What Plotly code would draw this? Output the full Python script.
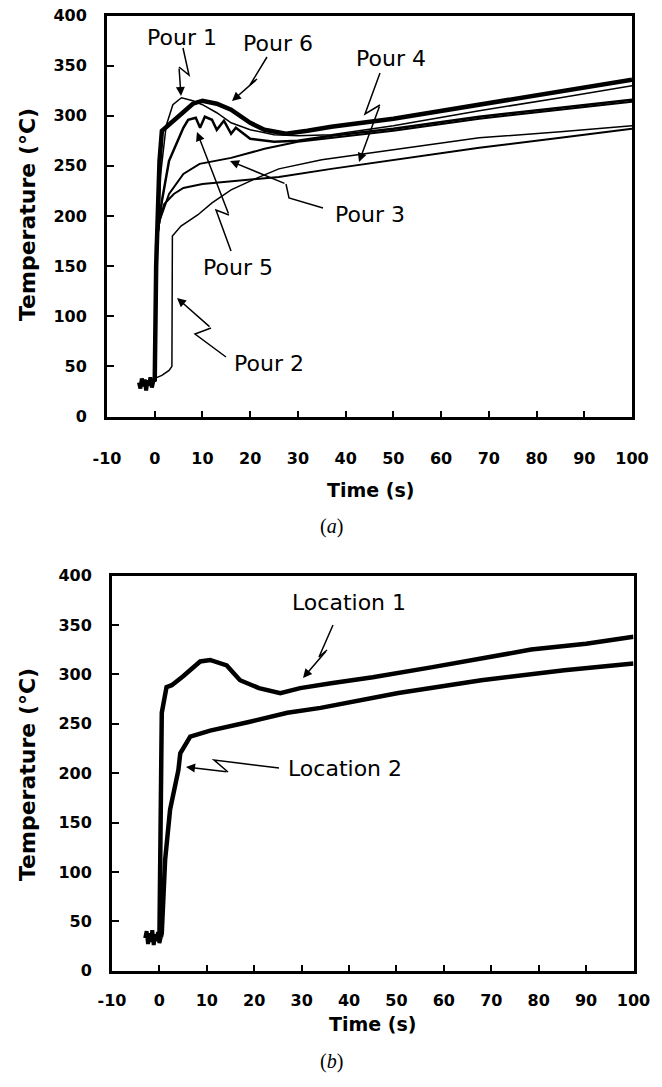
import plotly.graph_objects as go

W, H = 662, 1087

# ---------------- Panel (a) data: time (s) / temperature (°C) ----------------
pre_a_t = [-3.3, -3.0, -2.7, -2.4, -2.1, -1.8, -1.5, -1.2, -0.9, -0.6, -0.3, 0.0]
pre_a_T = [34, 28, 38, 30, 37, 26, 36, 31, 39, 29, 35, 34]

pour1_t = [0.0, 0.4, 1.2, 1.7, 2.4, 3.8, 5.6, 8, 10, 13, 16, 20, 25, 30, 37, 50, 68, 85, 100]
pour1_T = [35, 150, 240, 262, 290, 311, 318, 315, 311, 303, 293, 286, 281, 280, 281, 290, 305, 318, 330]

pour2_t = [0.0, 1.5, 3.0, 3.6, 3.7, 5.5, 9, 12, 16, 21, 26, 35, 50, 68, 85, 100]
pour2_T = [38, 41, 46, 50, 180, 190, 201, 213, 226, 237, 247, 256, 266, 278, 284, 290]

pour3_t = [0.0, 0.3, 1, 3, 6, 9.4, 16, 23, 30, 37, 50, 68, 85, 100]
pour3_T = [35, 172, 195, 222, 242, 252, 258, 267, 274, 278, 285, 297, 306, 314]

pour4_t = [0.0, 0.3, 1, 2, 4, 6, 10, 15, 20, 26, 37, 50, 68, 85, 100]
pour4_T = [35, 170, 195, 212, 222, 228, 232, 234, 236, 239, 247, 256, 268, 278, 287]

pour5_t = [0.0, 0.3, 1.5, 3, 6, 7, 8.6, 9.5, 10.5, 12, 13, 14.5, 16, 17, 20, 25, 30, 37, 50, 68, 85, 100]
pour5_T = [35, 172, 215, 255, 288, 296, 298, 288, 299, 296, 286, 295, 282, 288, 277, 274, 275, 280, 287, 299, 308, 316]

pour6_t = [0.0, 0.3, 1, 1.5, 2.5, 5, 8, 10, 13, 16, 20, 23, 27.5, 32, 37, 50, 68, 85, 100]
pour6_T = [35, 150, 255, 285, 289, 300, 312, 315, 312, 306, 293, 286, 282, 285, 289, 297, 311, 324, 336]

# ---------------- Panel (b) data ----------------
pre_b_t = [-3.0, -2.7, -2.4, -2.1, -1.8, -1.5, -1.2, -0.9, -0.6, -0.3, 0.0, 0.3]
pre_b_T = [33, 40, 27, 38, 29, 41, 26, 37, 30, 39, 28, 34]

loc1_t = [0.0, 0.3, 0.5, 1.5, 2.6, 5, 8.6, 10.7, 14.2, 17, 21, 25.5, 29.7, 36.2, 45, 57.3, 70, 78.4, 90, 100]
loc1_T = [33, 150, 261, 287, 289, 298, 313, 314.5, 309, 294, 286, 281, 286, 291, 297, 307, 318, 325, 331, 338]

loc2_t = [0.3, 0.5, 1.2, 2.25, 4, 4.4, 6.5, 10.7, 19.1, 27, 34, 50.4, 67.9, 85.4, 100]
loc2_T = [34, 38, 112, 163, 203, 220, 237, 243, 252, 261, 266, 281, 294, 304, 311]

x_ticks = list(range(-10, 101, 10))
x_ticktext = [str(v) for v in x_ticks]
y_ticks = list(range(0, 401, 50))
y_ticktext = [str(v) for v in y_ticks]

# ---------------- figure ----------------
fig = go.Figure()

def add_line(x, y, xa, ya, width):
    fig.add_trace(go.Scatter(x=x, y=y, mode="lines", xaxis=xa, yaxis=ya,
                             line=dict(color="black", width=width),
                             showlegend=False, hoverinfo="skip"))

add_line(pre_a_t, pre_a_T, "x", "y", 4)
add_line(pour1_t, pour1_T, "x", "y", 1.5)
add_line(pour2_t, pour2_T, "x", "y", 1.5)
add_line(pour3_t, pour3_T, "x", "y", 2)
add_line(pour4_t, pour4_T, "x", "y", 2)
add_line(pour5_t, pour5_T, "x", "y", 2.5)
add_line(pour6_t, pour6_T, "x", "y", 4.5)

add_line(pre_b_t, pre_b_T, "x2", "y2", 4)
add_line(loc1_t, loc1_T, "x2", "y2", 4.5)
add_line(loc2_t, loc2_T, "x2", "y2", 4.5)

tickfont = dict(family="DejaVu Sans", size=16, color="black", weight="bold")

def xaxis(domain, anchor, standoff):
    return dict(domain=domain, anchor=anchor, range=[-10, 100],
                tickvals=x_ticks, ticktext=x_ticktext,
                ticks="inside", ticklen=6, tickwidth=2, tickcolor="black",
                showline=True, linewidth=3, linecolor="black", mirror=True,
                showgrid=False, zeroline=False, tickfont=tickfont,
                ticklabelstandoff=standoff, automargin=False, fixedrange=True)

def yaxis(domain, anchor):
    return dict(domain=domain, anchor=anchor, range=[0, 400],
                tickvals=y_ticks, ticktext=y_ticktext,
                ticks="inside", ticklen=7, tickwidth=2, tickcolor="black",
                showline=True, linewidth=3, linecolor="black", mirror=True,
                showgrid=False, zeroline=False, tickfont=tickfont,
                ticklabelstandoff=14, automargin=False, fixedrange=True)

def px(x):
    return x / W

def py(y):
    return 1 - y / H

annotations = []
shapes = []

def label(text, x, y, size=22, bold=False, angle=0, family="DejaVu Sans"):
    annotations.append(dict(text=text, x=px(x), y=py(y), xref="paper", yref="paper",
                            showarrow=False, textangle=angle, xanchor="center", yanchor="middle",
                            font=dict(family=family, size=size, color="black",
                                      weight="bold" if bold else "normal")))

def bolt(S, K1, K2, E):
    shapes.append(dict(type="path", xref="paper", yref="paper",
                       path=f"M {px(S[0])},{py(S[1])} L {px(K1[0])},{py(K1[1])} L {px(K2[0])},{py(K2[1])}",
                       line=dict(color="black", width=1.5)))
    annotations.append(dict(text="", x=px(E[0]), y=py(E[1]), xref="paper", yref="paper",
                            ax=K2[0] - E[0], ay=K2[1] - E[1], showarrow=True,
                            arrowhead=2, arrowsize=1.2, arrowwidth=1.5, arrowcolor="black"))

# Panel (a) labels
label("Pour 1", 182, 37)
bolt((183, 48), (189, 75), (179, 67), (181, 96))
label("Pour 6", 278, 43)
bolt((267, 57), (250, 85), (257, 79), (232, 101))
label("Pour 4", 391, 59)
bolt((380, 73), (365, 114), (380, 105), (359, 162))
label("Pour 3", 370, 214)
bolt((323, 208), (289, 198), (286, 184), (230, 161))
label("Pour 5", 238, 267)
bolt((231, 251), (216, 210), (229, 215), (197, 132))
label("Pour 2", 269, 364)
bolt((226, 357), (195, 334), (211, 328), (177, 298))

label("Temperature (°C)", 27, 215, size=22, bold=True, angle=-90)
label("Time (s)", 370, 490, size=19, bold=True)
label("(<i>a</i>)", 331, 526, size=20, family="Liberation Serif")

# Panel (b) labels
label("Location 1", 349, 602)
bolt((333, 625), (319, 657), (327, 650), (303, 678))
label("Location 2", 345, 768)
bolt((279, 768), (214, 760), (228, 772), (186, 767))

label("Temperature (°C)", 27, 775, size=22, bold=True, angle=-90)
label("Time (s)", 372, 1024, size=19, bold=True)
label("(<i>b</i>)", 331, 1061, size=20, family="Liberation Serif")

fig.update_layout(
    width=W, height=H, margin=dict(l=0, r=0, t=0, b=0, autoexpand=False),
    paper_bgcolor="white", plot_bgcolor="white",
    xaxis=xaxis([107 / W, 632 / W], "y", 25),
    yaxis=yaxis([1 - 416.5 / H, 1 - 15.5 / H], "x"),
    xaxis2=xaxis([112 / W, 633.5 / W], "y2", 13),
    yaxis2=yaxis([1 - 970.7 / H, 1 - 575.5 / H], "x2"),
    annotations=annotations, shapes=shapes,
)

fig.write_html("out.html")
